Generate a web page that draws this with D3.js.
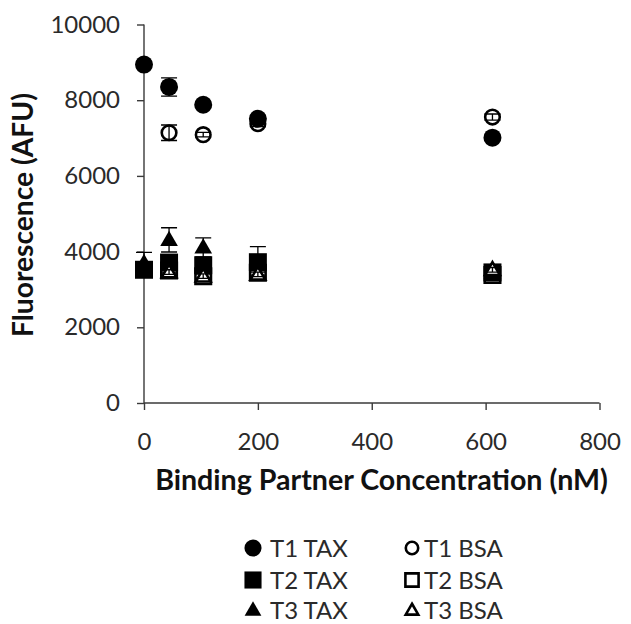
<!DOCTYPE html>
<html>
<head>
<meta charset="utf-8">
<script src="https://cdn.jsdelivr.net/npm/d3@7"></script>
<style>
  html, body { margin: 0; padding: 0; background: #fff; }
  svg { display: block; }
  text { font-family: Lato, "Open Sans", "Noto Sans", sans-serif; }
</style>
</head>
<body>
<svg id="chart" width="631" height="624"></svg>
<script>
// Binding partner concentrations (nM)
const concentrations = [0, 44, 104, 200, 612];

// Mean fluorescence (AFU) and error per series; null = not measured
const t1Tax = [8940, 8350, 7880, 7510, 7010];
const t1TaxErr = [50, 240, 70, 90, 60];
const t1Bsa = [null, 7140, 7090, 7380, 7555];
const t1BsaErr = [null, 205, 60, 80, 80];
const t2Tax = [3520, 3710, 3640, 3720, 3450];
const t2TaxErr = [60, 80, 80, 100, 60];
const t2Bsa = [null, 3500, 3350, 3440, 3380];
const t2BsaErr = [null, 60, 60, 60, 60];
const t3Tax = [3700, 4310, 4110, 3700, 3450];
const t3TaxErr = [280, 320, 250, 430, 200];
const t3Bsa = [null, 3460, 3350, 3400, 3520];
const t3BsaErr = [null, 60, 60, 60, 60];

const seriesNames = ["T1 TAX", "T1 BSA", "T2 TAX", "T2 BSA", "T3 TAX", "T3 BSA"];
const yTicks = [0, 2000, 4000, 6000, 8000, 10000];
const xTicks = [0, 200, 400, 600, 800];

const series = [
  { name: "T1 TAX", shape: "circle", filled: true, values: t1Tax, errors: t1TaxErr },
  { name: "T1 BSA", shape: "circle", filled: false, values: t1Bsa, errors: t1BsaErr },
  { name: "T2 TAX", shape: "square", filled: true, values: t2Tax, errors: t2TaxErr },
  { name: "T2 BSA", shape: "square", filled: false, values: t2Bsa, errors: t2BsaErr },
  { name: "T3 TAX", shape: "triangle", filled: true, values: t3Tax, errors: t3TaxErr },
  { name: "T3 BSA", shape: "triangle", filled: false, values: t3Bsa, errors: t3BsaErr }
];
// draw order: open markers under their filled partners, T3 BSA on top
const drawOrder = ["T1 BSA", "T1 TAX", "T2 BSA", "T2 TAX", "T3 TAX", "T3 BSA"];

const svg = d3.select("#chart");
const x = d3.scaleLinear().domain([0, 800]).range([144, 599.5]);
const y = d3.scaleLinear().domain([0, 10000]).range([403, 24.5]);

const axisColor = "#3a3a3a";
const labelColor = "#2a2a2a";
const fontSize = 24;

// axes
const gy = svg.append("g").attr("transform", `translate(${x(0)},0)`)
  .call(d3.axisLeft(y).tickValues(yTicks).tickSize(7).tickPadding(17).tickFormat(d3.format("d")));
const gx = svg.append("g").attr("transform", `translate(0,${y(0)})`)
  .call(d3.axisBottom(x).tickValues(xTicks).tickSize(7).tickPadding(23).tickFormat(d3.format("d")));
[gx, gy].forEach(g => {
  g.select(".domain").attr("stroke", axisColor).attr("stroke-width", 1.4);
  g.selectAll(".tick line").attr("stroke", axisColor).attr("stroke-width", 1.4);
  g.selectAll(".tick text").attr("fill", labelColor).style("font-size", fontSize + "px")
    .style("font-family", "Lato, sans-serif");
});
// axis lines without the outer end caps
gy.select(".domain").attr("d", `M0,${y(10000)}V${y(0)}`);
gx.select(".domain").attr("d", `M${x(0)},0H${x(800)}`);

// symbol helpers
const shapeType = { circle: d3.symbolCircle, square: d3.symbolSquare, triangle: d3.symbolTriangle };
const filledSize = { circle: Math.PI * 9 * 9, square: 18 * 18, triangle: 135 };
const openSize = { circle: Math.PI * 7.3 * 7.3, square: 15.5 * 15.5, triangle: 95 };

function marker(g, s, cx, cy, scale = 1) {
  const size = (s.filled ? filledSize[s.shape] : openSize[s.shape]) * scale * scale;
  const dy = s.shape === "triangle" ? 1 : 0;
  g.append("path")
    .attr("d", d3.symbol().type(shapeType[s.shape]).size(size)())
    .attr("transform", `translate(${cx},${cy + dy})`)
    .attr("fill", s.filled ? "#000" : "#fff")
    .attr("stroke", "#000")
    .attr("stroke-width", s.filled ? 0 : 2.6);
}

const plot = svg.append("g");
drawOrder.forEach(name => {
  const s = series.find(d => d.name === name);
  const g = plot.append("g").attr("class", "series");
  const pts = concentrations.map((c, i) => ({ c, v: s.values[i], e: s.errors[i] }))
    .filter(d => d.v !== null);
  pts.forEach(d => marker(g, s, x(d.c), y(d.v)));
  // error bars
  pts.forEach(d => {
    const cx = x(d.c), y1 = y(d.v + d.e), y2 = y(d.v - d.e);
    g.append("path")
      .attr("d", `M${cx},${y1}V${y2}M${cx - 8},${y1}H${cx + 8}M${cx - 8},${y2}H${cx + 8}`)
      .attr("stroke", "#000").attr("stroke-width", 1.3).attr("fill", "none");
  });
});

// axis titles, fitted to their span
function fitText(t, target) {
  const w = t.node().getComputedTextLength();
  const fs = parseFloat(t.style("font-size"));
  t.style("font-size", (fs * target / w) + "px");
}
const xTitle = svg.append("text")
  .attr("x", 381.5).attr("y", 490).attr("text-anchor", "middle")
  .style("font-size", fontSize + "px").style("font-weight", 700).attr("fill", "#111")
  .text("Binding Partner Concentration (nM)");
fitText(xTitle, 453);
const yTitle = svg.append("text")
  .attr("transform", "translate(33,215) rotate(-90)").attr("text-anchor", "middle")
  .style("font-size", fontSize + "px").style("font-weight", 700).attr("fill", "#111")
  .text("Fluorescence (AFU)");
fitText(yTitle, 244);

// legend, two columns
const legendRows = [548, 580, 610];
const legendCols = [{ mx: 253, tx: 270 }, { mx: 412, tx: 424 }];
const legend = svg.append("g");
seriesNames.forEach((name, i) => {
  const s = series.find(d => d.name === name);
  const col = legendCols[i % 2], rowY = legendRows[Math.floor(i / 2)];
  marker(legend, s, col.mx, rowY, s.filled ? 0.95 : 0.85);
  legend.append("text").attr("x", col.tx).attr("y", rowY + 8.5)
    .style("font-size", fontSize + "px").attr("fill", labelColor).text(name);
});
</script>
</body>
</html>
